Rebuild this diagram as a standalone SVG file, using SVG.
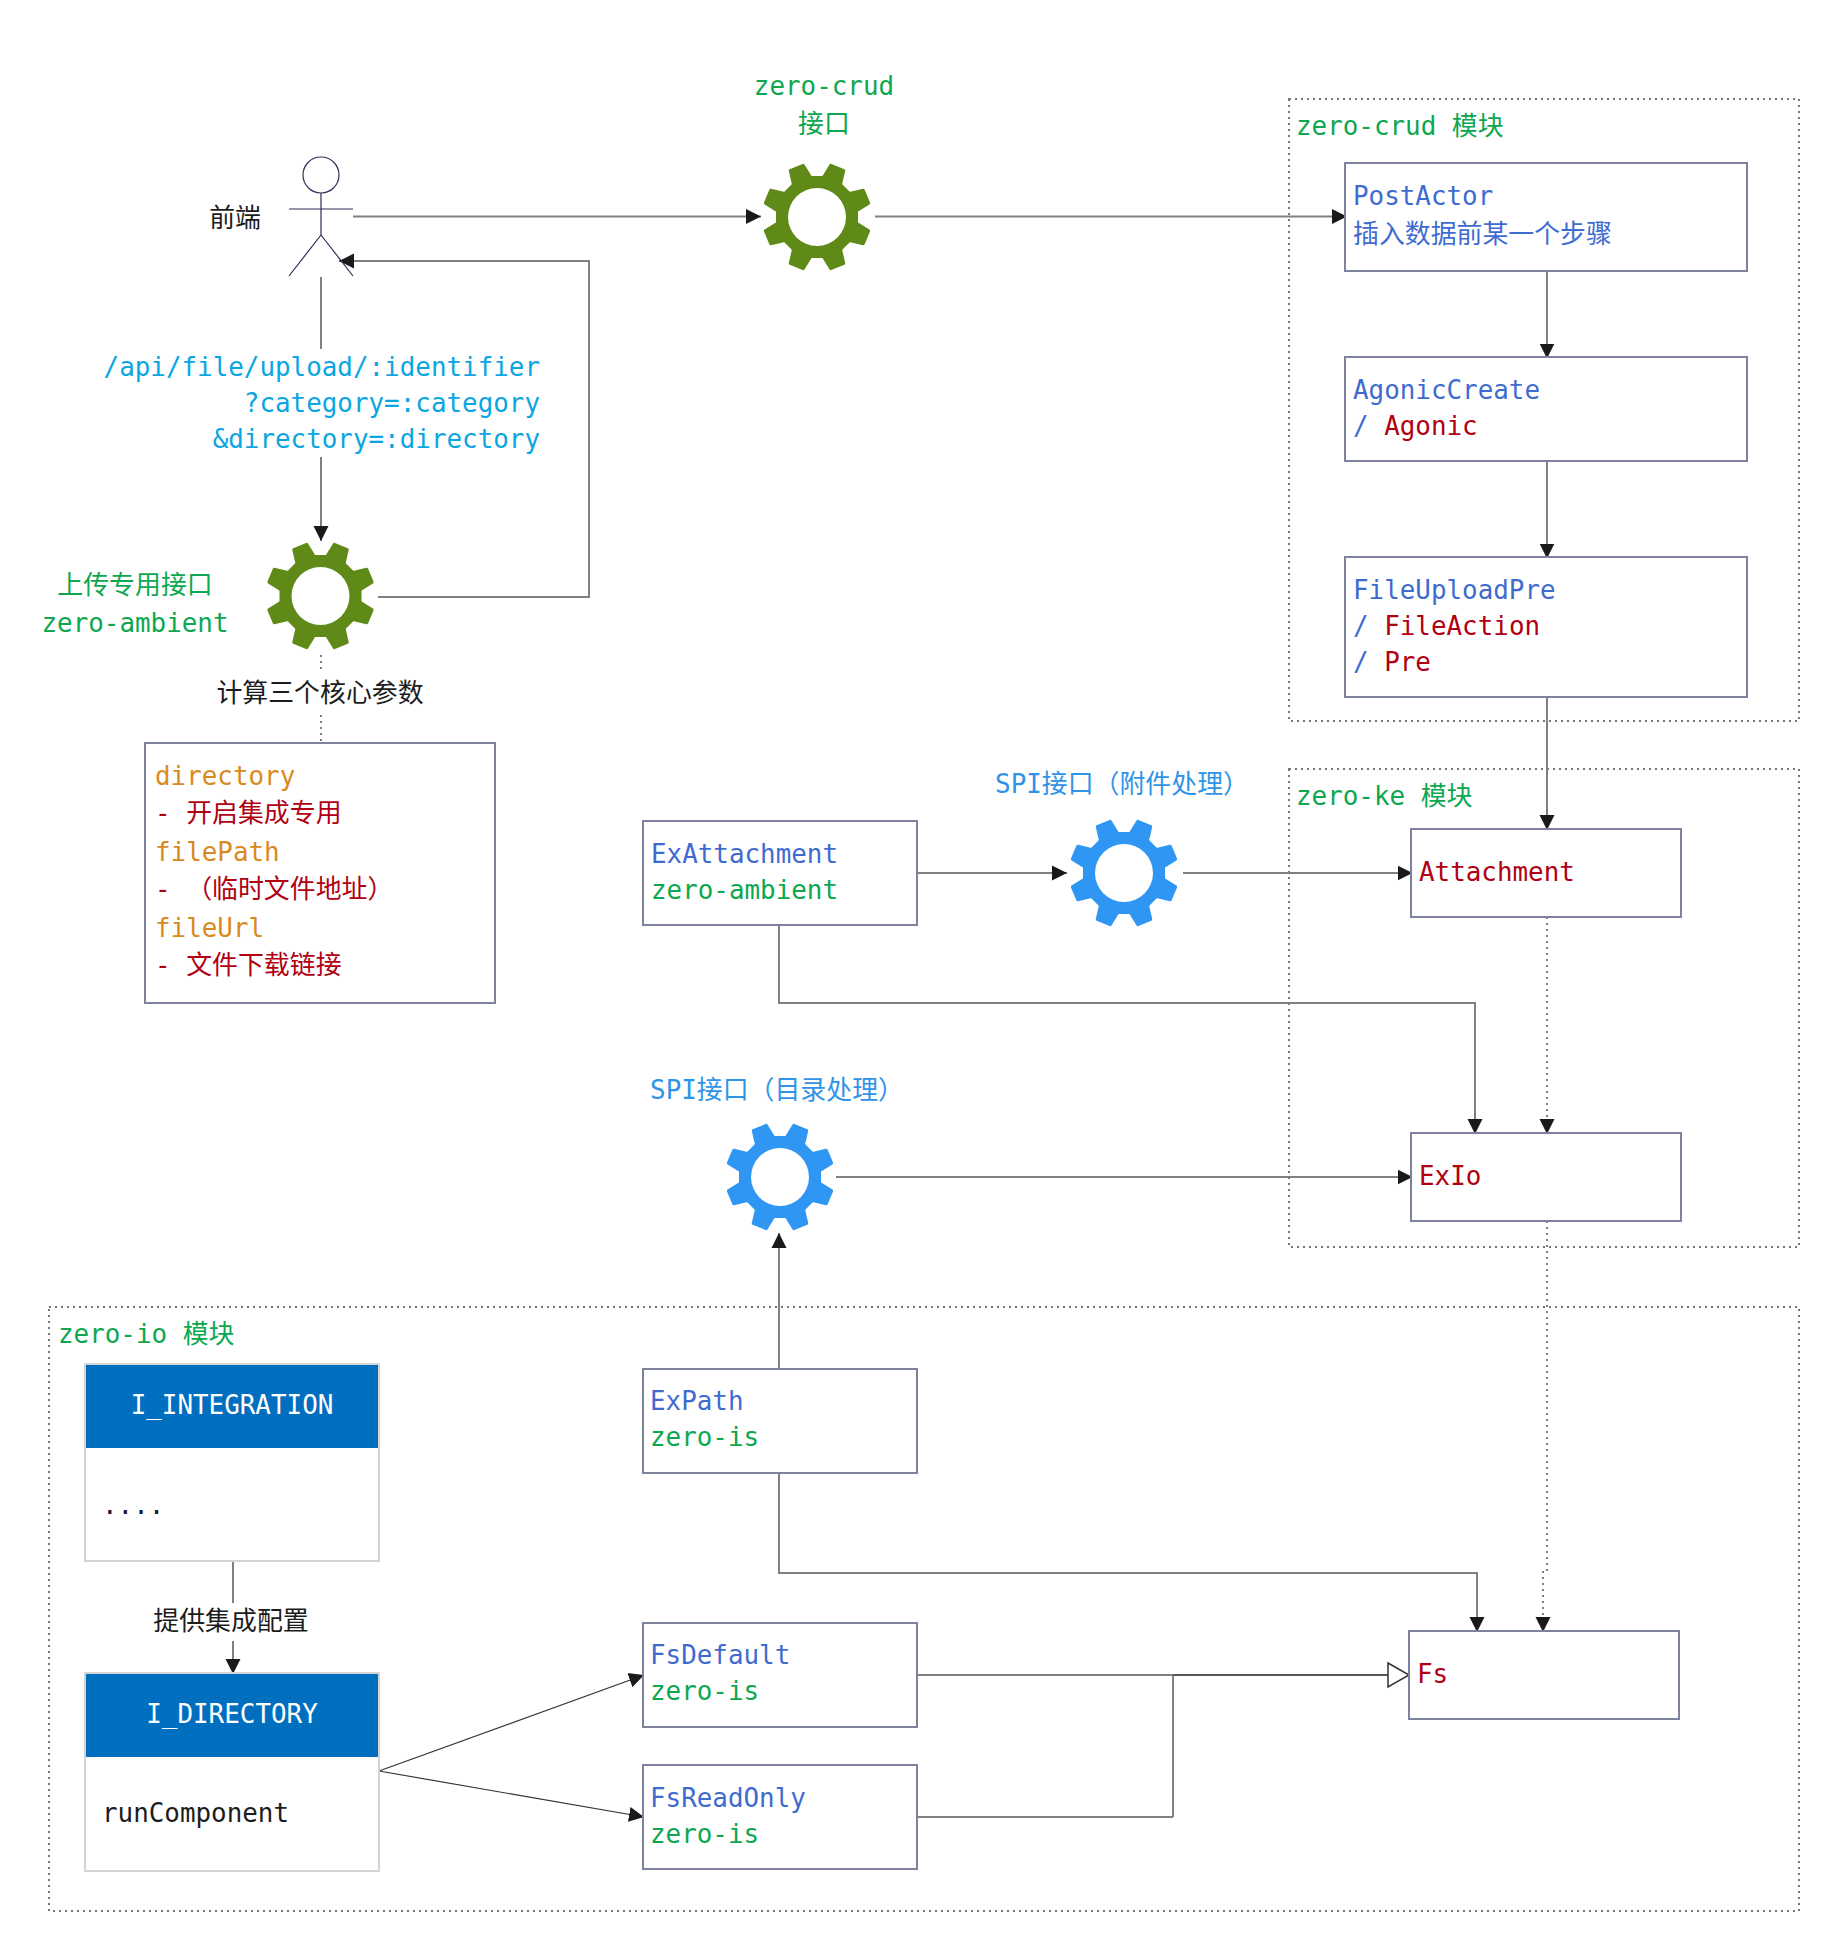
<svg xmlns="http://www.w3.org/2000/svg" width="1840" height="1960" viewBox="0 0 1840 1960">
<style>
text{font-family:"DejaVu Sans Mono","Noto Sans CJK SC",monospace;font-size:25.9px;white-space:pre}
.g{fill:#0ca750}.b{fill:#3f6bd0}.r{fill:#b00012}.o{fill:#d98a1e}.c{fill:#0aa6e2}.k{fill:#1c1c1c}.w{fill:#fff}.s{fill:#2f93e8}
.m{text-anchor:middle}.e{text-anchor:end}
.box{fill:#fff;stroke:#7f829c;stroke-width:2}
.grp{fill:none;stroke:#777;stroke-width:2;stroke-dasharray:2 4}
.tb{fill:#fff;stroke:#d4d4d4;stroke-width:2}
.hd{fill:#006fc0}
.ln{fill:none;stroke:#808080;stroke-width:2}
.dl{fill:none;stroke:#808080;stroke-width:2;stroke-dasharray:2 4}
.th{fill:none;stroke:#333;stroke-width:1.2}
.am{marker-end:url(#a)}
.act{fill:#fff;stroke:#2f2f5a;stroke-width:1.2}
</style>
<defs>
<marker id="a" markerUnits="userSpaceOnUse" markerWidth="16" markerHeight="16" refX="15" refY="8" orient="auto"><path d="M0 0.5L15 8L0 15.5Z" fill="#1a1a1a"/></marker>
<g id="gear">
<path fill-rule="evenodd" d="M17-41L41-17V17L17 41H-17L-41 17V-17L-17-41ZM29 0A29 29 0 1 0-29 0A29 29 0 1 0 29 0Z"/>
<g stroke-linejoin="round" stroke-width="3" stroke="currentColor">
<path d="M-9.500-38L-7-53H7L9.500-38Z" transform="rotate(22.5)"/>
<path d="M-9.500-38L-7-53H7L9.500-38Z" transform="rotate(67.5)"/>
<path d="M-9.500-38L-7-53H7L9.500-38Z" transform="rotate(112.5)"/>
<path d="M-9.500-38L-7-53H7L9.500-38Z" transform="rotate(157.5)"/>
<path d="M-9.500-38L-7-53H7L9.500-38Z" transform="rotate(202.5)"/>
<path d="M-9.500-38L-7-53H7L9.500-38Z" transform="rotate(247.5)"/>
<path d="M-9.500-38L-7-53H7L9.500-38Z" transform="rotate(292.5)"/>
<path d="M-9.500-38L-7-53H7L9.500-38Z" transform="rotate(337.5)"/>
</g>
</g>
</defs>
<rect width="1840" height="1960" fill="#fff"/>

<g id="module-crud"><rect class="grp" x="1289" y="99" width="510" height="622"/><text class="g" x="1296" y="135">zero-crud 模块</text></g>
<g id="module-ke"><rect class="grp" x="1289" y="769" width="510" height="478"/><text class="g" x="1296" y="805">zero-ke 模块</text></g>
<g id="module-io"><rect class="grp" x="49" y="1307" width="1750" height="604"/><text class="g" x="58" y="1343">zero-io 模块</text></g>

<g id="connectors">
<path class="ln am" d="M353 216.500H761"/>
<path class="ln am" d="M875 216.500H1347"/>
<path class="ln am" d="M378 597H589V261H339"/>
<path class="ln am" d="M321 277V541"/>
<path class="dl" d="M321 655V743"/>
<path class="ln am" d="M1547 271V358.500"/>
<path class="ln am" d="M1547 461V558.500"/>
<path class="ln am" d="M1547 697V830"/>
<path class="ln am" d="M917 873H1067"/>
<path class="ln am" d="M1183 873H1412.500"/>
<path class="ln am" d="M779 925V1003H1475V1134"/>
<path class="dl am" d="M1547 917V1134"/>
<path class="ln am" d="M836 1177H1412.500"/>
<path class="ln am" d="M779 1369V1233"/>
<path class="dl am" d="M1547 1221V1572H1543V1632"/>
<path class="ln am" d="M779 1473V1573H1477V1632"/>
<path class="ln" d="M917 1675H1173"/>
<path class="ln" d="M1173 1817H917M1173 1817V1675"/>
<path fill="none" stroke="#555" stroke-width="2" d="M1173 1675H1388"/>
<path fill="#fff" stroke="#333" stroke-width="1.500" d="M1388 1663L1409 1675L1388 1687Z"/>
<path class="ln am" d="M233 1561V1674"/>
<path class="th am" d="M379 1771L644 1675"/>
<path class="th am" d="M379 1771L644 1817"/>
</g>

<g id="actor">
<circle class="act" cx="321" cy="175" r="18"/>
<path class="act" style="fill:none" d="M321 193V235M289 209H353M321 235L289 276M321 235L353 276"/>
<text class="k e" x="261" y="227">前端</text>
</g>

<g id="label-url">
<rect x="100" y="349" width="450" height="108" fill="#fff"/>
<text class="c e" x="540" y="376">/api/file/upload/:identifier</text>
<text class="c e" x="540" y="412">?category=:category</text>
<text class="c e" x="540" y="448">&amp;directory=:directory</text>
</g>

<g id="gear-crud"><use href="#gear" x="817" y="217" fill="#5f8a18" color="#5f8a18"/><text class="g m" x="824" y="95">zero-crud</text><text class="g m" x="824" y="133">接口</text></g>
<g id="gear-ambient"><use href="#gear" x="320.500" y="596" fill="#5f8a18" color="#5f8a18"/><text class="g m" x="135" y="594">上传专用接口</text><text class="g m" x="135" y="632">zero-ambient</text></g>
<g id="gear-spi-file"><use href="#gear" x="1124" y="873" fill="#2f97f3" color="#2f97f3"/><text class="s m" x="1122" y="793">SPI接口（附件处理）</text></g>
<g id="gear-spi-dir"><use href="#gear" x="780" y="1177" fill="#2f97f3" color="#2f97f3"/><text class="s m" x="777" y="1099">SPI接口（目录处理）</text></g>

<g id="label-calc"><rect x="210" y="672" width="222" height="40" fill="#fff"/><text class="k m" x="320" y="702">计算三个核心参数</text></g>

<g id="params"><rect class="box" x="145" y="743" width="350" height="260"/>
<text class="o" x="155" y="785">directory</text>
<text class="r" x="155" y="822">- 开启集成专用</text>
<text class="o" x="155" y="861">filePath</text>
<text class="r" x="155" y="898">- （临时文件地址）</text>
<text class="o" x="155" y="937">fileUrl</text>
<text class="r" x="155" y="974">- 文件下载链接</text></g>

<g id="post-actor"><rect class="box" x="1345" y="163" width="402" height="108"/><text class="b" x="1353" y="205">PostActor</text><text class="b" x="1353" y="243">插入数据前某一个步骤</text></g>
<g id="agonic-create"><rect class="box" x="1345" y="357" width="402" height="104"/><text class="b" x="1353" y="399">AgonicCreate</text><text x="1353" y="435"><tspan class="b">/ </tspan><tspan class="r">Agonic</tspan></text></g>
<g id="file-upload-pre"><rect class="box" x="1345" y="557" width="402" height="140"/><text class="b" x="1353" y="599">FileUploadPre</text><text x="1353" y="635"><tspan class="b">/ </tspan><tspan class="r">FileAction</tspan></text><text x="1353" y="671"><tspan class="b">/ </tspan><tspan class="r">Pre</tspan></text></g>
<g id="attachment"><rect class="box" x="1411" y="829" width="270" height="88"/><text class="r" x="1419" y="881">Attachment</text></g>
<g id="exio"><rect class="box" x="1411" y="1133" width="270" height="88"/><text class="r" x="1419" y="1185">ExIo</text></g>
<g id="fs"><rect class="box" x="1409" y="1631" width="270" height="88"/><text class="r" x="1417" y="1683">Fs</text></g>
<g id="ex-attachment"><rect class="box" x="643" y="821" width="274" height="104"/><text class="b" x="651" y="863">ExAttachment</text><text class="g" x="651" y="899">zero-ambient</text></g>
<g id="ex-path"><rect class="box" x="643" y="1369" width="274" height="104"/><text class="b" x="650" y="1410">ExPath</text><text class="g" x="650" y="1446">zero-is</text></g>
<g id="fs-default"><rect class="box" x="643" y="1623" width="274" height="104"/><text class="b" x="650" y="1664">FsDefault</text><text class="g" x="650" y="1700">zero-is</text></g>
<g id="fs-readonly"><rect class="box" x="643" y="1765" width="274" height="104"/><text class="b" x="650" y="1807">FsReadOnly</text><text class="g" x="650" y="1843">zero-is</text></g>

<g id="i-integration"><rect class="tb" x="85" y="1364" width="294" height="197"/><rect class="hd" x="86" y="1365" width="292" height="83"/><text class="w m" x="232" y="1414">I_INTEGRATION</text><text class="k" x="102" y="1514">....</text></g>
<g id="i-directory"><rect class="tb" x="85" y="1673" width="294" height="198"/><rect class="hd" x="86" y="1674" width="292" height="83"/><text class="w m" x="232" y="1723">I_DIRECTORY</text><text class="k" x="102" y="1822">runComponent</text></g>
<g id="label-config"><rect x="150" y="1603" width="166" height="38" fill="#fff"/><text class="k m" x="231" y="1630">提供集成配置</text></g>
</svg>
